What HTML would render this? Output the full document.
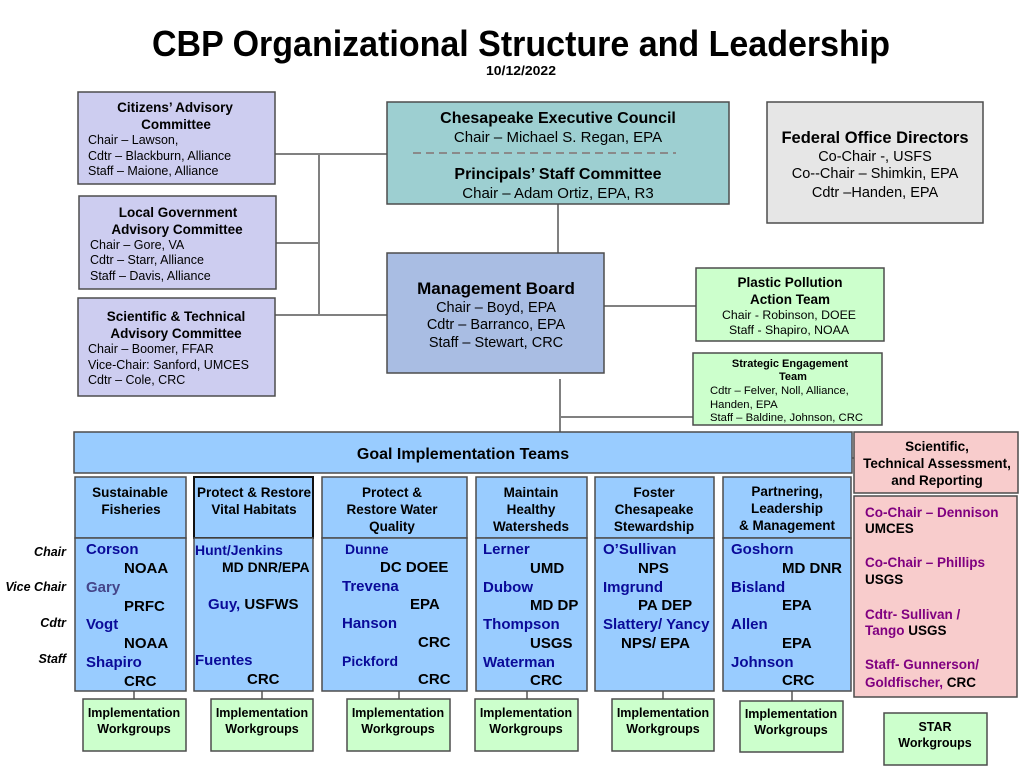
<!DOCTYPE html>
<html>
<head>
<meta charset="utf-8">
<style>
html,body{margin:0;padding:0;background:#fff;}
svg{display:block;}
text{font-family:"Liberation Sans",Arial,sans-serif;}
.b{font-weight:bold;}
.bx{stroke:#4d4d4d;stroke-width:1.5;}
.ln{stroke:#808080;stroke-width:2;fill:none;}
.nm{fill:#0a0a99;font-weight:bold;font-size:15px;}
.og{fill:#000;font-weight:bold;font-size:15px;}
.hd{font-weight:bold;font-size:13.5px;text-anchor:middle;}
.wg{font-weight:bold;font-size:12.5px;text-anchor:middle;}
.pu{fill:#800080;font-weight:bold;font-size:13.5px;}
.bk{fill:#000;font-weight:bold;font-size:13.5px;}
.rl{font-weight:bold;font-style:italic;font-size:12.5px;text-anchor:end;}
</style>
</head>
<body>
<svg width="1024" height="768" viewBox="0 0 1024 768" xmlns="http://www.w3.org/2000/svg">
<rect width="1024" height="768" fill="#fff"/>

<!-- Title -->
<text x="521" y="56" text-anchor="middle" class="b" font-size="36" textLength="738" lengthAdjust="spacingAndGlyphs">CBP Organizational Structure and Leadership</text>
<text x="521" y="75" text-anchor="middle" class="b" font-size="13" textLength="70" lengthAdjust="spacingAndGlyphs">10/12/2022</text>

<!-- Connectors -->
<line class="ln" x1="275" y1="154" x2="388" y2="154"/>
<line class="ln" x1="319" y1="153" x2="319" y2="316"/>
<line class="ln" x1="276" y1="243" x2="319" y2="243"/>
<line class="ln" x1="275" y1="315" x2="388" y2="315"/>
<line class="ln" x1="558" y1="204" x2="558" y2="253"/>
<line class="ln" x1="604" y1="306" x2="696" y2="306"/>
<line class="ln" x1="560" y1="379" x2="560" y2="432"/>
<line class="ln" x1="559" y1="417" x2="693" y2="417"/>
<line class="ln" x1="852" y1="458" x2="857" y2="458"/>
<line class="ln" stroke-width="1.5" x1="134" y1="691" x2="134" y2="699"/>
<line class="ln" stroke-width="1.5" x1="262" y1="691" x2="262" y2="699"/>
<line class="ln" stroke-width="1.5" x1="399" y1="691" x2="399" y2="699"/>
<line class="ln" stroke-width="1.5" x1="527" y1="691" x2="527" y2="699"/>
<line class="ln" stroke-width="1.5" x1="663" y1="691" x2="663" y2="699"/>
<line class="ln" stroke-width="1.5" x1="792" y1="691" x2="792" y2="701"/>

<!-- Citizens' Advisory Committee -->
<rect class="bx" x="78" y="92" width="197" height="92" fill="#cdcdf0"/>
<text x="175" y="112" class="hd">Citizens’ Advisory</text>
<text x="176" y="129" class="hd">Committee</text>
<text x="88" y="144" font-size="12.5">Chair – Lawson,</text>
<text x="88" y="160" font-size="12.5">Cdtr – Blackburn, Alliance</text>
<text x="88" y="175" font-size="12.5">Staff – Maione, Alliance</text>

<!-- Local Government Advisory Committee -->
<rect class="bx" x="79" y="196" width="197" height="93" fill="#cdcdf0"/>
<text x="178" y="217" class="hd">Local Government</text>
<text x="177" y="234" class="hd">Advisory Committee</text>
<text x="90" y="249" font-size="12.5">Chair – Gore, VA</text>
<text x="90" y="264" font-size="12.5">Cdtr – Starr, Alliance</text>
<text x="90" y="280" font-size="12.5">Staff – Davis, Alliance</text>

<!-- STAC -->
<rect class="bx" x="78" y="298" width="197" height="98" fill="#cdcdf0"/>
<text x="176" y="321" class="hd">Scientific &amp; Technical</text>
<text x="176" y="338" class="hd">Advisory Committee</text>
<text x="88" y="353" font-size="12.5">Chair – Boomer, FFAR</text>
<text x="88" y="369" font-size="12.5">Vice-Chair: Sanford, UMCES</text>
<text x="88" y="384" font-size="12.5">Cdtr – Cole, CRC</text>

<!-- Executive Council -->
<rect class="bx" x="387" y="102" width="342" height="102" fill="#9dcfd1"/>
<text x="558" y="123" text-anchor="middle" class="b" font-size="16">Chesapeake Executive Council</text>
<text x="558" y="142" text-anchor="middle" font-size="15">Chair – Michael S. Regan, EPA</text>
<line x1="413" y1="153" x2="676" y2="153" stroke="#8a8a8a" stroke-width="2" stroke-dasharray="8,5"/>
<text x="558" y="179" text-anchor="middle" class="b" font-size="16">Principals’ Staff Committee</text>
<text x="558" y="198" text-anchor="middle" font-size="15">Chair – Adam Ortiz, EPA, R3</text>

<!-- Federal Office Directors -->
<rect class="bx" x="767" y="102" width="216" height="121" fill="#e6e6e6"/>
<text x="875" y="143" text-anchor="middle" class="b" font-size="16.5">Federal Office Directors</text>
<text x="875" y="161" text-anchor="middle" font-size="14.5">Co-Chair -, USFS</text>
<text x="875" y="178" text-anchor="middle" font-size="14.5">Co--Chair – Shimkin, EPA</text>
<text x="875" y="197" text-anchor="middle" font-size="14.5">Cdtr –Handen, EPA</text>

<!-- Management Board -->
<rect class="bx" x="387" y="253" width="217" height="120" fill="#a9bde3"/>
<text x="496" y="294" text-anchor="middle" class="b" font-size="17">Management Board</text>
<text x="496" y="312" text-anchor="middle" font-size="14.5">Chair – Boyd, EPA</text>
<text x="496" y="329" text-anchor="middle" font-size="14.5">Cdtr – Barranco, EPA</text>
<text x="496" y="347" text-anchor="middle" font-size="14.5">Staff – Stewart, CRC</text>

<!-- Plastic Pollution Action Team -->
<rect class="bx" x="696" y="268" width="188" height="73" fill="#ccffcc"/>
<text x="790" y="287" class="hd">Plastic Pollution</text>
<text x="790" y="304" class="hd">Action Team</text>
<text x="789" y="319" text-anchor="middle" font-size="12.3">Chair - Robinson, DOEE</text>
<text x="789" y="334" text-anchor="middle" font-size="12.3">Staff - Shapiro, NOAA</text>

<!-- Strategic Engagement Team -->
<rect class="bx" x="693" y="353" width="189" height="72" fill="#ccffcc"/>
<text x="790" y="367" text-anchor="middle" class="b" font-size="11">Strategic Engagement</text>
<text x="793" y="380" text-anchor="middle" class="b" font-size="11">Team</text>
<text x="710" y="394" font-size="11.3">Cdtr – Felver, Noll, Alliance,</text>
<text x="710" y="408" font-size="11.3">Handen, EPA</text>
<text x="710" y="421" font-size="11.3">Staff – Baldine, Johnson, CRC</text>

<!-- GIT header -->
<rect class="bx" x="74" y="432" width="778" height="41" fill="#99ccff"/>
<text x="463" y="459" text-anchor="middle" class="b" font-size="16">Goal Implementation Teams</text>

<!-- STAR -->
<rect class="bx" x="854" y="432" width="164" height="61" fill="#f8cccc"/>
<text x="937" y="451" class="hd">Scientific,</text>
<text x="937" y="468" class="hd">Technical Assessment,</text>
<text x="937" y="485" class="hd">and Reporting</text>
<rect class="bx" x="854" y="496" width="163" height="201" fill="#f8cccc"/>
<text x="865" y="517" class="pu">Co-Chair – Dennison</text>
<text x="865" y="533" class="bk">UMCES</text>
<text x="865" y="567" class="pu">Co-Chair – Phillips</text>
<text x="865" y="584" class="bk">USGS</text>
<text x="865" y="619" class="pu">Cdtr- Sullivan /</text>
<text x="865" y="635"><tspan class="pu">Tango</tspan><tspan class="bk"> USGS</tspan></text>
<text x="865" y="669" class="pu">Staff- Gunnerson/</text>
<text x="865" y="687"><tspan class="pu">Goldfischer,</tspan><tspan class="bk"> CRC</tspan></text>

<!-- Row labels -->
<text x="66" y="556" class="rl">Chair</text>
<text x="66" y="591" class="rl">Vice Chair</text>
<text x="66" y="627" class="rl">Cdtr</text>
<text x="66" y="663" class="rl">Staff</text>

<!-- Column 1 -->
<rect class="bx" x="75" y="477" width="111" height="61" fill="#99ccff"/>
<rect class="bx" x="75" y="538" width="111" height="153" fill="#99ccff"/>
<text x="130" y="497" class="hd">Sustainable</text>
<text x="131" y="514" class="hd">Fisheries</text>
<text x="86" y="554" class="nm">Corson</text>
<text x="124" y="573" class="og">NOAA</text>
<text x="86" y="592" class="nm" style="fill:#45458a">Gary</text>
<text x="124" y="611" class="og">PRFC</text>
<text x="86" y="629" class="nm">Vogt</text>
<text x="124" y="648" class="og">NOAA</text>
<text x="86" y="667" class="nm">Shapiro</text>
<text x="124" y="686" class="og">CRC</text>

<!-- Column 2 -->
<rect x="194" y="477" width="119" height="61" fill="#99ccff" stroke="#111" stroke-width="2"/>
<rect class="bx" x="194" y="538" width="119" height="153" fill="#99ccff"/>
<text x="254" y="497" class="hd">Protect &amp; Restore</text>
<text x="254" y="514" class="hd">Vital Habitats</text>
<text x="195" y="555" class="nm" style="font-size:14px">Hunt/Jenkins</text>
<text x="222" y="572" class="og" style="font-size:14px">MD DNR/EPA</text>
<text x="208" y="609"><tspan class="nm">Guy,</tspan><tspan class="og"> USFWS</tspan></text>
<text x="195" y="665" class="nm">Fuentes</text>
<text x="247" y="684" class="og">CRC</text>

<!-- Column 3 -->
<rect class="bx" x="322" y="477" width="145" height="61" fill="#99ccff"/>
<rect class="bx" x="322" y="538" width="145" height="153" fill="#99ccff"/>
<text x="392" y="497" class="hd">Protect &amp;</text>
<text x="392" y="514" class="hd">Restore Water</text>
<text x="392" y="531" class="hd">Quality</text>
<text x="345" y="554" class="nm" style="font-size:14px">Dunne</text>
<text x="380" y="572" class="og">DC DOEE</text>
<text x="342" y="591" class="nm">Trevena</text>
<text x="410" y="609" class="og">EPA</text>
<text x="342" y="628" class="nm">Hanson</text>
<text x="418" y="647" class="og">CRC</text>
<text x="342" y="666" class="nm" style="font-size:14px">Pickford</text>
<text x="418" y="684" class="og">CRC</text>

<!-- Column 4 -->
<rect class="bx" x="476" y="477" width="111" height="61" fill="#99ccff"/>
<rect class="bx" x="476" y="538" width="111" height="153" fill="#99ccff"/>
<text x="531" y="497" class="hd">Maintain</text>
<text x="531" y="514" class="hd">Healthy</text>
<text x="531" y="531" class="hd">Watersheds</text>
<text x="483" y="554" class="nm">Lerner</text>
<text x="530" y="573" class="og">UMD</text>
<text x="483" y="592" class="nm">Dubow</text>
<text x="530" y="610" class="og">MD DP</text>
<text x="483" y="629" class="nm">Thompson</text>
<text x="530" y="648" class="og">USGS</text>
<text x="483" y="667" class="nm">Waterman</text>
<text x="530" y="685" class="og">CRC</text>

<!-- Column 5 -->
<rect class="bx" x="595" y="477" width="119" height="61" fill="#99ccff"/>
<rect class="bx" x="595" y="538" width="119" height="153" fill="#99ccff"/>
<text x="654" y="497" class="hd">Foster</text>
<text x="654" y="514" class="hd">Chesapeake</text>
<text x="654" y="531" class="hd">Stewardship</text>
<text x="603" y="554" class="nm">O’Sullivan</text>
<text x="638" y="573" class="og">NPS</text>
<text x="603" y="592" class="nm">Imgrund</text>
<text x="638" y="610" class="og">PA DEP</text>
<text x="603" y="629" class="nm">Slattery/ Yancy</text>
<text x="621" y="648" class="og">NPS/ EPA</text>

<!-- Column 6 -->
<rect class="bx" x="723" y="477" width="128" height="61" fill="#99ccff"/>
<rect class="bx" x="723" y="538" width="128" height="153" fill="#99ccff"/>
<text x="787" y="496" class="hd">Partnering,</text>
<text x="787" y="513" class="hd">Leadership</text>
<text x="787" y="530" class="hd">&amp; Management</text>
<text x="731" y="554" class="nm">Goshorn</text>
<text x="782" y="573" class="og">MD DNR</text>
<text x="731" y="592" class="nm">Bisland</text>
<text x="782" y="610" class="og">EPA</text>
<text x="731" y="629" class="nm">Allen</text>
<text x="782" y="648" class="og">EPA</text>
<text x="731" y="667" class="nm">Johnson</text>
<text x="782" y="685" class="og">CRC</text>

<!-- Implementation Workgroups -->
<rect class="bx" x="83" y="699" width="103" height="52" fill="#ccffcc"/>
<text x="134" y="717" class="wg">Implementation</text>
<text x="134" y="733" class="wg">Workgroups</text>
<rect class="bx" x="211" y="699" width="102" height="52" fill="#ccffcc"/>
<text x="262" y="717" class="wg">Implementation</text>
<text x="262" y="733" class="wg">Workgroups</text>
<rect class="bx" x="347" y="699" width="103" height="52" fill="#ccffcc"/>
<text x="398" y="717" class="wg">Implementation</text>
<text x="398" y="733" class="wg">Workgroups</text>
<rect class="bx" x="475" y="699" width="103" height="52" fill="#ccffcc"/>
<text x="526" y="717" class="wg">Implementation</text>
<text x="526" y="733" class="wg">Workgroups</text>
<rect class="bx" x="612" y="699" width="102" height="52" fill="#ccffcc"/>
<text x="663" y="717" class="wg">Implementation</text>
<text x="663" y="733" class="wg">Workgroups</text>
<rect class="bx" x="740" y="701" width="103" height="51" fill="#ccffcc"/>
<text x="791" y="718" class="wg">Implementation</text>
<text x="791" y="734" class="wg">Workgroups</text>

<!-- STAR Workgroups -->
<rect class="bx" x="884" y="713" width="103" height="52" fill="#ccffcc"/>
<text x="935" y="731" class="wg">STAR</text>
<text x="935" y="747" class="wg">Workgroups</text>
</svg>
</body>
</html>
